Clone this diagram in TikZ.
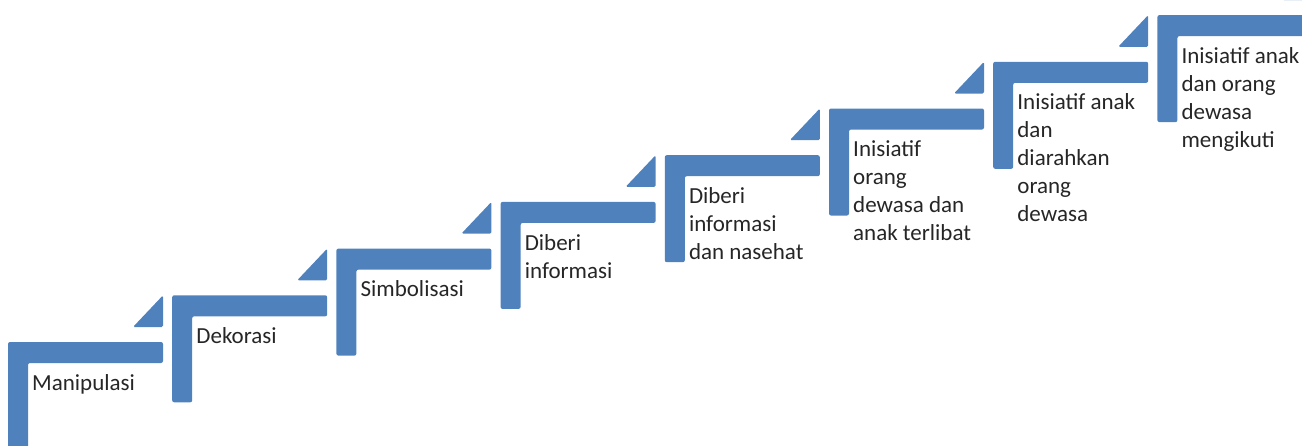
\documentclass[tikz,border=0pt]{standalone}
\usepackage{fontspec}
\setmainfont{Carlito}
\definecolor{stepblue}{HTML}{4F81BD}
\definecolor{txt}{HTML}{262626}
\tikzset{
  stepbar/.style={fill=stepblue, draw=none, rounded corners=2pt},
  stepmark/.style={fill=stepblue, draw=none, rounded corners=1.5pt},
  steplabel/.style={anchor=north west, inner sep=0pt, align=left, text=txt,
    font=\fontsize{23pt}{28pt}\selectfont}
}
\begin{document}
\begin{tikzpicture}[x=1pt,y=-1pt]
\useasboundingbox (0,0) rectangle (1302,445);
\clip (0,0) rectangle (1302,445);
\foreach \i/\t in {0/{Manipulasi},1/{Dekorasi},2/{Simbolisasi},3/{Diberi\\informasi},4/{Diberi\\informasi\\dan nasehat},5/{Inisiatif\\orang\\dewasa dan\\anak terlibat},6/{Inisiatif anak\\dan\\diarahkan\\orang\\dewasa},7/{Inisiatif anak\\dan orang\\dewasa\\mengikuti}}{
  \pgfmathsetmacro{\X}{8+164.2*\i}
  \pgfmathsetmacro{\Y}{342-46.7*\i}
  \fill[stepbar] (\X,\Y) -- (\X+155,\Y) -- (\X+155,\Y+21) -- (\X+20,\Y+21) -- (\X+20,\Y+107) -- (\X,\Y+107) -- cycle;
  \fill[stepmark] (\X+155,\Y-15) -- (\X+125,\Y-15) -- (\X+155,\Y-46.7) -- cycle;
  \node[steplabel] (s\i) at (\X+24,\Y+32) {\t};
}
\end{tikzpicture}
\end{document}
